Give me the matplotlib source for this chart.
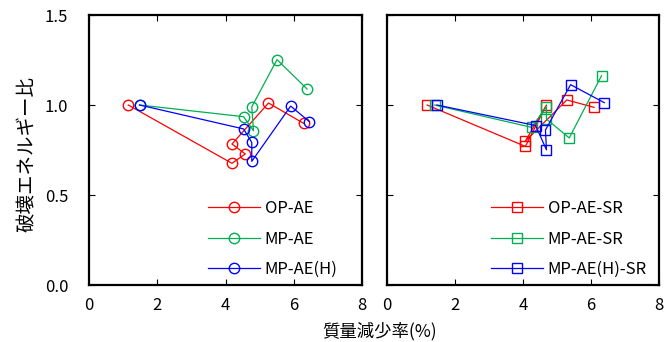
import matplotlib
matplotlib.use("Agg")
import matplotlib.pyplot as plt

plt.rcParams['font.family'] = ['Noto Sans CJK JP', 'DejaVu Sans']

# Left panel data (x: mass loss %, y: fracture energy ratio)
op_ae_x = [1.15, 4.19, 4.58, 4.19, 5.26, 6.29]
op_ae_y = [1.00, 0.676, 0.728, 0.783, 1.011, 0.898]
mp_ae_x = [1.48, 4.53, 4.82, 4.77, 5.51, 6.39]
mp_ae_y = [1.00, 0.935, 0.857, 0.990, 1.252, 1.089]
mp_aeh_x = [1.48, 4.53, 4.77, 4.77, 5.91, 6.46]
mp_aeh_y = [1.00, 0.867, 0.792, 0.687, 0.994, 0.907]

# Right panel data
op_sr_x = [1.18, 4.07, 4.69, 4.07, 5.29, 6.09]
op_sr_y = [1.00, 0.770, 1.000, 0.800, 1.028, 0.987]
mp_sr_x = [1.40, 4.25, 4.69, 4.69, 5.36, 6.31]
mp_sr_y = [1.00, 0.876, 0.990, 0.922, 0.817, 1.163]
mp_h_sr_x = [1.47, 4.37, 4.69, 4.66, 5.40, 6.39]
mp_h_sr_y = [1.00, 0.886, 0.751, 0.861, 1.113, 1.013]

left_labels = ['OP-AE', 'MP-AE', 'MP-AE(H)']
right_labels = ['OP-AE-SR', 'MP-AE-SR', 'MP-AE(H)-SR']
colors = ['#ff0000', '#00b050', '#0000ff']

x_ticks = [0, 2, 4, 6, 8]
y_ticks = [0.0, 0.5, 1.0, 1.5]
y_ticklabels = ['0.0', '0.5', '1.0', '1.5']

fig = plt.figure(figsize=(6.71, 3.42), dpi=100)
ax1 = fig.add_axes([89/671, 1-285/342, 273/671, 270/342])
ax2 = fig.add_axes([387/671, 1-285/342, 272/671, 270/342])

left_series = [(op_ae_x, op_ae_y), (mp_ae_x, mp_ae_y), (mp_aeh_x, mp_aeh_y)]
right_series = [(op_sr_x, op_sr_y), (mp_sr_x, mp_sr_y), (mp_h_sr_x, mp_h_sr_y)]

for (xs, ys), lab, c in zip(left_series, left_labels, colors):
    ax1.plot(xs, ys, color=c, lw=0.9, marker='o', ms=7.5, mfc='none', mec=c, mew=1.0, label=lab)
for (xs, ys), lab, c in zip(right_series, right_labels, colors):
    ax2.plot(xs, ys, color=c, lw=0.9, marker='s', ms=7.5, mfc='none', mec=c, mew=1.0, label=lab)

legend_x = {ax1: 0.436, ax2: 0.382}
for ax in (ax1, ax2):
    ax.set_xlim(0, 8)
    ax.set_ylim(0, 1.5)
    ax.set_xticks(x_ticks)
    ax.set_yticks(y_ticks)
    ax.tick_params(direction='in', top=True, right=True, length=4.5, width=0.8, labelsize=12)
    ax.tick_params(axis='x', pad=9)
    ax.tick_params(axis='y', pad=15)
    for s in ax.spines.values():
        s.set_linewidth(1.6)
    ax.set_xticklabels([str(t) for t in x_ticks])
    ax.legend(loc='center left', bbox_to_anchor=(legend_x[ax], 46/270), frameon=False,
              fontsize=12, handlelength=3.1, labelspacing=0.8, handletextpad=0.3,
              borderpad=0.0, borderaxespad=0.0)

ax1.set_yticklabels(y_ticklabels)
ax2.set_yticklabels([])

fig.text(27/671, 1-154/342, '破壊エネルギー比', rotation=90, ha='center', va='center', fontsize=14)
fig.text(380/671, 1-331/342, '質量減少率(%)', ha='center', va='center', fontsize=12.5)

fig.savefig('out.png', dpi=100)
